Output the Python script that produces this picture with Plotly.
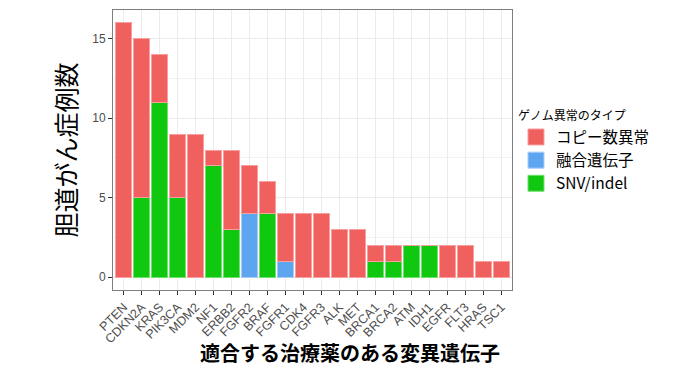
import plotly.graph_objects as go

genes = ["PTEN", "CDKN2A", "KRAS", "PIK3CA", "MDM2", "NF1", "ERBB2", "FGFR2", "BRAF", "FGFR1",
         "CDK4", "FGFR3", "ALK", "MET", "BRCA1", "BRCA2", "ATM", "IDH1", "EGFR", "FLT3", "HRAS", "TSC1"]
snv = [0, 5, 11, 5, 0, 7, 3, 0, 4, 0, 0, 0, 0, 0, 1, 1, 2, 2, 0, 0, 0, 0]
fusion = [0, 0, 0, 0, 0, 0, 0, 4, 0, 1, 0, 0, 0, 0, 0, 0, 0, 0, 0, 0, 0, 0]
cnv = [16, 10, 3, 4, 9, 1, 5, 3, 2, 3, 4, 4, 3, 3, 1, 1, 0, 0, 2, 2, 1, 1]

series_names = ["コピー数異常", "融合遺伝子", "SNV/indel"]
colors = {"コピー数異常": "#F0605F", "融合遺伝子": "#5EA5F0", "SNV/indel": "#10C810"}
lines = {"コピー数異常": "#F8A0A0", "融合遺伝子": "#A8CCF8", "SNV/indel": "#70E070"}

fig = go.Figure()
for name, vals in [("SNV/indel", snv), ("融合遺伝子", fusion), ("コピー数異常", cnv)]:
    fig.add_trace(go.Bar(
        x=genes, y=vals, name=name, width=0.9, showlegend=False,
        marker=dict(color=colors[name], line=dict(color=lines[name], width=1)),
    ))

# legend entries (larger square keys)
for name in series_names:
    fig.add_trace(go.Scatter(
        x=[None], y=[None], mode="markers", name=name,
        marker=dict(symbol="square", size=18, color=colors[name],
                    line=dict(color=lines[name], width=1)),
    ))

font_main = "Liberation Sans, Arial, sans-serif"
font_jp = "Noto Sans CJK JP, sans-serif"

fig.update_layout(
    barmode="stack",
    width=700, height=368,
    margin=dict(l=113, r=188, t=10, b=78),
    paper_bgcolor="white",
    plot_bgcolor="white",
    font=dict(family=font_main, color="#4D4D4D", size=12),
    legend=dict(
        title=dict(text="ゲノム異常のタイプ", font=dict(family=font_jp, size=12, color="black")),
        traceorder="normal",
        x=1.01, xanchor="left", y=0.49, yanchor="middle",
        font=dict(family=font_jp, size=15.5, color="black"),
        itemsizing="trace",
        tracegroupgap=0,
    ),
    bargap=0.1,
    annotations=[dict(
        text="<b>適合する治療薬のある変異遺伝子</b>",
        xref="paper", yref="paper", x=(350 - 113) / 399, y=(290 - 352) / 280,
        xanchor="center", yanchor="middle", showarrow=False,
        font=dict(family=font_jp, size=20, color="black"),
    )],
)

fig.update_xaxes(
    range=[-0.6, 21.6],
    automargin=False,
    tickangle=-45,
    ticks="outside", ticklen=4, tickcolor="#333333",
    tickfont=dict(size=12.5, color="#4D4D4D"),
    showgrid=True, gridcolor="#EBEBEB", gridwidth=1,
    showline=True, linecolor="#7F7F7F", linewidth=1, mirror=True,
)
fig.update_yaxes(
    range=[-0.8, 16.8],
    automargin=False,
    tickvals=[0, 5, 10, 15],
    ticks="outside", ticklen=4, tickcolor="#333333",
    tickfont=dict(size=12, color="#4D4D4D"),
    showgrid=True, gridcolor="#EBEBEB", gridwidth=1,
    minor=dict(tickvals=[2.5, 7.5, 12.5], showgrid=True, gridcolor="#F2F2F2", gridwidth=1),
    zeroline=False,
    showline=True, linecolor="#7F7F7F", linewidth=1, mirror=True,
    title=dict(text="胆道がん症例数",
               font=dict(family=font_jp, size=25, color="black"), standoff=8),
)

fig.write_html("out.html", config={"displayModeBar": False},
               post_script="document.body.style.margin='0';")
